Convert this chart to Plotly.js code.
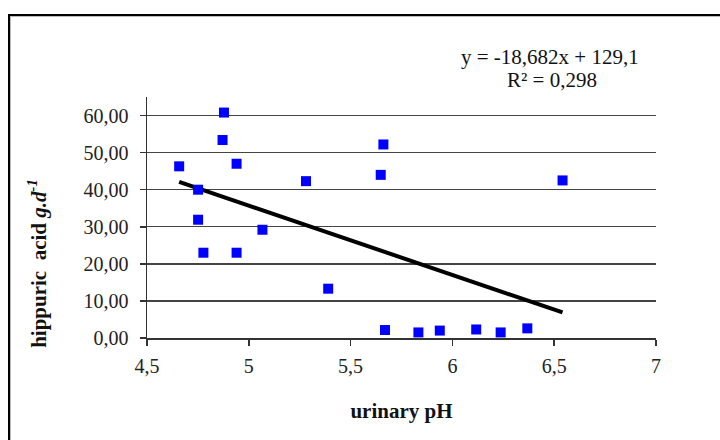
<!DOCTYPE html>
<html>
<head>
<meta charset="utf-8">
<script src="https://cdn.plot.ly/plotly-3.0.1.min.js"></script>
<style>
html,body{margin:0;padding:0;background:#fff;}
#chart{width:720px;height:440px;position:relative;}
#frame{position:absolute;left:8px;top:14px;width:720px;height:440px;border-left:2px solid #000;border-top:2px solid #000;pointer-events:none;box-shadow:inset 1px 1px 0 #bbb;}
</style>
</head>
<body>
<div id="chart"></div>
<div id="frame"></div>
<script>
// urinary pH (x) and hippuric acid g/d (y)
const urinaryPH = [4.658, 4.878, 4.871, 4.94, 4.751, 4.751, 4.777, 4.94, 5.067, 5.281, 5.39, 5.661, 5.648, 5.669, 5.833, 5.938, 6.117, 6.237, 6.368, 6.541];
const hippuricAcid = [46.3, 60.8, 53.4, 47.0, 40.0, 31.9, 23.0, 23.0, 29.2, 42.3, 13.3, 52.2, 44.0, 2.15, 1.5, 2.0, 2.3, 1.5, 2.6, 42.5];
const slope = -18.682;
const intercept = 129.1;
const xTickVals = [4.5, 5, 5.5, 6, 6.5, 7];
const xTickText = ['4,5', '5', '5,5', '6', '6,5', '7'];
const yTickVals = [0, 10, 20, 30, 40, 50, 60];
const yTickText = ['0,00', '10,00', '20,00', '30,00', '40,00', '50,00', '60,00'];
const equationText = 'y = -18,682x + 129,1';
const r2Text = 'R² = 0,298';

const xMin = Math.min(...urinaryPH), xMax = Math.max(...urinaryPH);
const trendX = [xMin, xMax];
const trendY = trendX.map(x => slope * x + intercept);

const font = 'Liberation Serif, Times New Roman, serif';

const data = [
  {x: trendX, y: trendY, mode: 'lines', type: 'scatter', line: {color: '#000', width: 4}, hoverinfo: 'skip'},
  {x: urinaryPH, y: hippuricAcid, mode: 'markers', type: 'scatter',
   marker: {symbol: 'square', size: 10, color: '#0000FF'}}
];

const layout = {
  width: 720, height: 440,
  margin: {l: 147, r: 64, t: 97, b: 102},
  paper_bgcolor: '#fff', plot_bgcolor: '#fff',
  showlegend: false,
  font: {family: font, color: '#222', size: 19},
  xaxis: {
    range: [4.5, 7], tickvals: xTickVals, ticktext: xTickText,
    showgrid: false, zeroline: false, showline: true, linecolor: '#333', linewidth: 1.5,
    ticks: 'outside', ticklen: 6, tickcolor: '#333', tickwidth: 1.5,
    ticklabelstandoff: 3,
    tickfont: {family: font, size: 20, color: '#222'},
    title: {text: '<b>urinary pH</b>', font: {family: font, size: 21, color: '#111'}, standoff: 28}
  },
  yaxis: {
    range: [0, 65], tickvals: yTickVals, ticktext: yTickText,
    showgrid: true, gridcolor: '#444', gridwidth: 1.3, zeroline: false,
    showline: true, linecolor: '#333', linewidth: 1.5,
    ticks: 'outside', ticklen: 6, tickcolor: '#333', tickwidth: 1.5,
    ticklabelstandoff: 7,
    tickfont: {family: font, size: 20, color: '#222'}
  },
  annotations: [
    {xref: 'paper', yref: 'paper', x: -0.215, y: 0.31, xanchor: 'center', yanchor: 'middle',
     text: '<b>hippuric  acid <i>g.d</i><sup><i>-1</i></sup></b>', textangle: -90, showarrow: false,
     font: {family: font, size: 21, color: '#111'}},
    {xref: 'paper', yref: 'paper', x: 0.792, y: 1.168, xanchor: 'center', yanchor: 'middle',
     text: equationText, showarrow: false, font: {family: font, size: 21, color: '#111'}},
    {xref: 'paper', yref: 'paper', x: 0.796, y: 1.072, xanchor: 'center', yanchor: 'middle',
     text: r2Text, showarrow: false, font: {family: font, size: 21, color: '#111'}}
  ]
};

Plotly.newPlot('chart', data, layout, {displayModeBar: false, staticPlot: true});
</script>
</body>
</html>
